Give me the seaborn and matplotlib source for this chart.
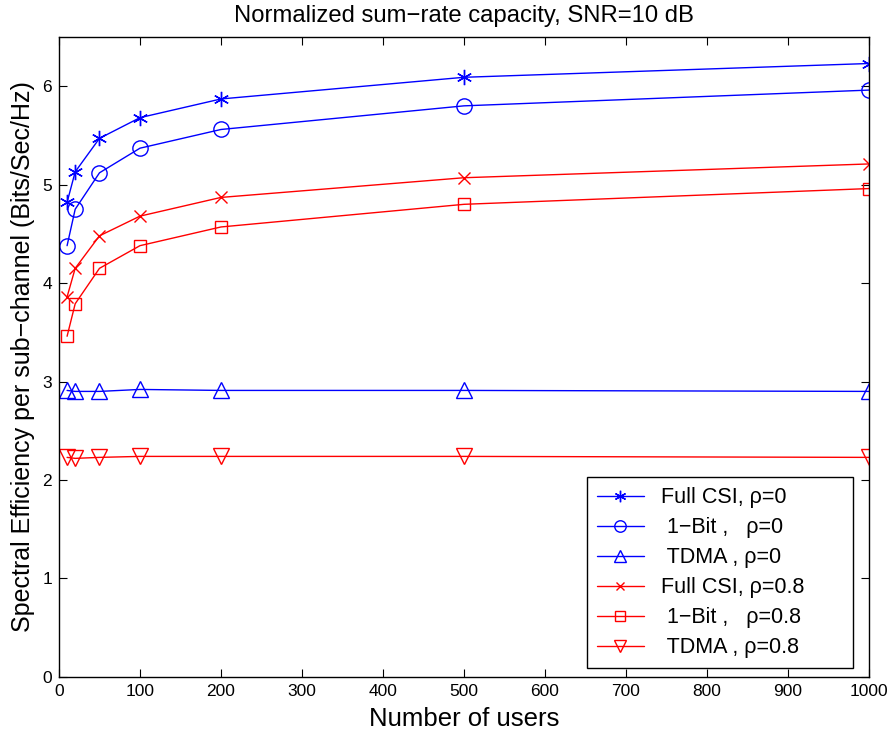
import pandas as pd
import matplotlib
matplotlib.use('Agg')
import matplotlib.pyplot as plt
import seaborn as sns

# Data
USERS = [10, 20, 50, 100, 200, 500, 1000]
FULL_CSI_0 = [4.82, 5.13, 5.47, 5.68, 5.87, 6.09, 6.23]
ONE_BIT_0 = [4.38, 4.75, 5.12, 5.37, 5.56, 5.80, 5.96]
TDMA_0 = [2.91, 2.90, 2.90, 2.92, 2.91, 2.91, 2.90]
FULL_CSI_08 = [3.86, 4.15, 4.48, 4.68, 4.87, 5.07, 5.21]
ONE_BIT_08 = [3.46, 3.79, 4.15, 4.38, 4.57, 4.80, 4.96]
TDMA_08 = [2.23, 2.22, 2.23, 2.24, 2.24, 2.24, 2.23]
LABELS = ['Full CSI, \u03c1=0', ' 1\u2212Bit ,   \u03c1=0', ' TDMA , \u03c1=0',
          'Full CSI, \u03c1=0.8', ' 1\u2212Bit ,   \u03c1=0.8', ' TDMA , \u03c1=0.8']

sns.set_style('ticks')
plt.rcParams['font.family'] = ['Liberation Sans', 'DejaVu Sans']
plt.rcParams['text.color'] = 'black'
plt.rcParams['axes.labelcolor'] = 'black'
plt.rcParams['xtick.color'] = 'black'
plt.rcParams['ytick.color'] = 'black'
plt.rcParams['axes.edgecolor'] = 'black'

series = [FULL_CSI_0, ONE_BIT_0, TDMA_0, FULL_CSI_08, ONE_BIT_08, TDMA_08]
colors = ['#0000ff'] * 3 + ['#ff0000'] * 3
markers = [(6, 2, 0), 'o', '^', 'x', 's', 'v']
sizes = [11, 11, 11, 8, 9, 11]
filled = [True, False, False, True, False, False]

fig = plt.figure(figsize=(8.91, 7.34), dpi=100)
ax = fig.add_axes([0.0662, 0.0777, 0.909, 0.872])

for vals, lab, c, m, ms, f in zip(series, LABELS, colors, markers, sizes, filled):
    df = pd.DataFrame({'users': USERS, 'rate': vals})
    sns.lineplot(data=df, x='users', y='rate', ax=ax, color=c, marker=m,
                 markersize=ms, markerfacecolor=c if f else 'none',
                 markeredgecolor=c, markeredgewidth=1.0, linewidth=1.0, label=lab)

ax.set_xlim(0, 1000)
ax.set_ylim(0, 6.5)
ax.set_xticks(range(0, 1001, 100))
ax.set_yticks(range(0, 7))
ax.tick_params(direction='in', top=True, right=True, labelsize=12.5, length=6, pad=5)
for s in ax.spines.values():
    s.set_linewidth(1.0)
ax.set_title('Normalized sum\u2212rate capacity, SNR=10 dB', fontsize=17.2, pad=11)
ax.set_xlabel('Number of users', fontsize=18.5, labelpad=6)
ax.set_ylabel('Spectral Efficiency per sub\u2212channel (Bits/Sec/Hz)', fontsize=18, labelpad=5)

leg = ax.legend(loc='lower left', fontsize=15.5, fancybox=False, framealpha=1,
                edgecolor='black', handlelength=2.2, handletextpad=0.8,
                borderpad=0.45, labelspacing=0.42, mode='expand',
                bbox_to_anchor=(0.652, 0.014, 0.328, 0.3), borderaxespad=0)
leg.get_frame().set_linewidth(1.0)
for h in leg.legend_handles:
    h.set_markersize(h.get_markersize() * 0.75)

plt.savefig('out.png', dpi=100)
